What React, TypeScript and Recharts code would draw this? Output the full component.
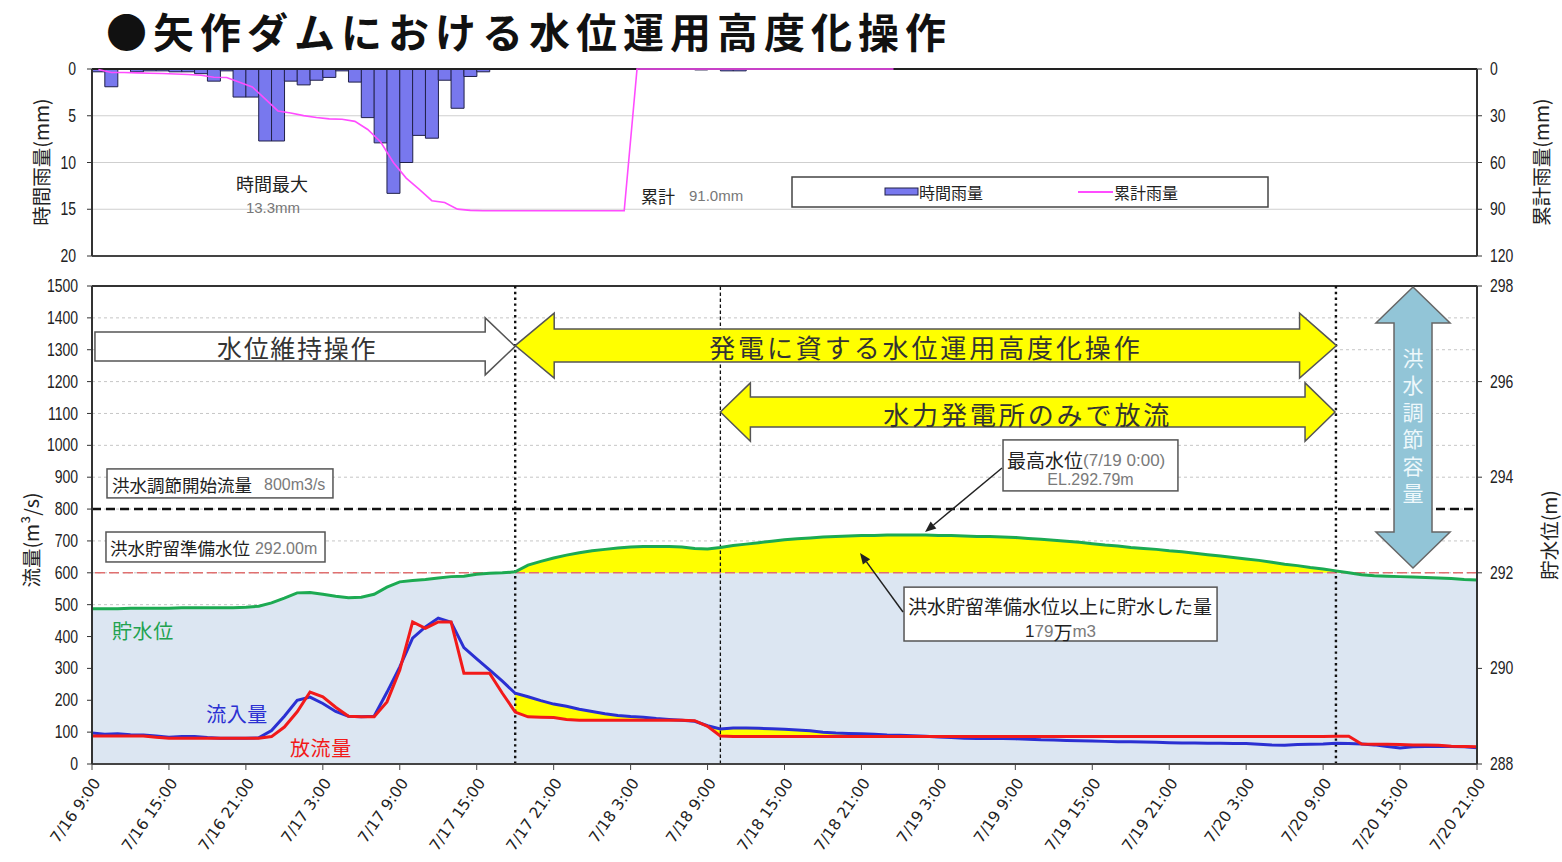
import React from "react";
import {
  ComposedChart,
  Bar,
  Line,
  Area,
  XAxis,
  YAxis,
  CartesianGrid,
  ReferenceLine,
  ReferenceArea,
  ReferenceDot,
} from "recharts";

const W = 1562;
const H = 862;
const JP = "'Noto Sans CJK JP', 'Noto Sans', sans-serif";
const SANS = "'Liberation Sans', 'DejaVu Sans', sans-serif";
const TICKX = "'DejaVu Sans', sans-serif";

// hourly rainfall (mm), one bar per hour from 7/16 9:00
const rainMm = [
  0.3, 1.9, 0, 0.3, 0.2, 0.2, 0.3, 0.3, 0.5, 1.3,
  0.2, 3.0, 3.0, 7.7, 7.7, 1.3, 1.7, 1.2, 0.9, 0.2,
  1.4, 5.2, 7.9, 13.3, 10.0, 7.1, 7.4, 1.2, 4.2, 0.8,
  0.3, 0, 0, 0, 0, 0, 0, 0, 0, 0,
  0, 0, 0, 0, 0, 0, 0, 0.1, 0, 0.2,
  0.2, 0, 0, 0, 0, 0, 0, 0, 0, 0,
  0, 0, 0, 0, 0, 0, 0, 0, 0, 0,
  0, 0, 0, 0, 0, 0, 0, 0, 0, 0,
  0, 0, 0, 0, 0, 0, 0, 0, 0, 0,
  0, 0, 0, 0, 0, 0, 0, 0, 0, 0,
  0, 0, 0, 0, 0, 0, 0, 0,
];

// cumulative rainfall (mm) as drawn (counter resets after 7/18 3:00)
const rainCum: (number | null)[] = [
  0.3, 2.2, 2.2, 2.5, 2.7, 2.9, 3.2, 3.5, 4.0, 5.3,
  5.5, 8.5, 11.5, 19.2, 26.9, 28.2, 29.9, 31.1, 32.0, 32.2,
  33.6, 38.8, 46.7, 60.0, 70.0, 77.1, 84.5, 85.7, 89.9, 90.7,
  91.0, 91.0, 91.0, 91.0, 91.0, 91.0, 91.0, 91.0, 91.0, 91.0,
  91.0, 91.0, 0, 0, 0, 0, 0, 0, 0, 0,
  0, 0, 0, 0, 0, 0, 0, 0, 0, 0,
  0, 0, 0, null, null, null, null, null, null, null,
  null, null, null, null, null, null, null, null, null, null,
  null, null, null, null, null, null, null, null, null, null,
  null, null, null, null, null, null, null, null, null, null,
  null, null, null, null, null, null, null, null,
];

// hourly inflow (m3/s), h = 0 is 7/16 9:00
const inflow = [
  97, 93, 95, 92, 91, 88, 84, 86, 86, 83,
  81, 81, 81, 82, 105, 150, 200, 210, 190, 165,
  150, 148, 150, 225, 305, 395, 430, 458, 445, 365,
  330, 295, 260, 222, 211, 199, 188, 181, 172, 165,
  158, 152, 149, 147, 143, 140, 137, 134, 120, 110,
  113, 113, 112, 111, 109, 107, 104, 100, 97, 96,
  95, 93, 91, 90, 89, 87, 85, 83, 81, 80,
  80, 80, 79, 78, 76, 75, 74, 73, 72, 71,
  70, 70, 69, 68, 67, 66, 66, 65, 65, 64,
  64, 62, 60, 59, 61, 62, 63, 65, 64, 63,
  60, 55, 50, 54, 55, 56, 55, 54, 51,
];

// hourly outflow (m3/s)
const outflow = [
  88, 88, 88, 88, 88, 84, 81, 81, 81, 81,
  81, 81, 81, 81, 86, 116, 164, 226, 211, 178,
  150, 148, 148, 195, 295, 446, 426, 446, 446, 285,
  285, 285, 222, 163, 148, 147, 146, 140, 137, 137,
  137, 137, 137, 137, 137, 137, 137, 136, 118, 88,
  86, 86, 86, 86, 86, 86, 86, 86, 86, 86,
  86, 86, 86, 86, 86, 86, 86, 86, 86, 86,
  86, 86, 86, 86, 86, 86, 86, 86, 86, 86,
  86, 86, 86, 86, 86, 86, 86, 86, 86, 86,
  86, 86, 86, 86, 86, 86, 86, 87, 87, 63,
  62, 62, 61, 60, 60, 59, 56, 55, 54,
];

// hourly reservoir level (EL.m)
const level = [
  291.25, 291.25, 291.25, 291.26, 291.26, 291.26, 291.26, 291.27, 291.27, 291.27,
  291.27, 291.27, 291.28, 291.3, 291.37, 291.47, 291.58, 291.59, 291.55, 291.51,
  291.48, 291.49, 291.55, 291.7, 291.81, 291.84, 291.86, 291.89, 291.92, 291.93,
  291.97, 291.99, 292.0, 292.02, 292.16, 292.24, 292.31, 292.37, 292.42, 292.46,
  292.49, 292.52, 292.54, 292.55, 292.55, 292.55, 292.54, 292.51, 292.5, 292.53,
  292.57, 292.6, 292.63, 292.66, 292.69, 292.71, 292.73, 292.75, 292.76, 292.77,
  292.78, 292.78, 292.79, 292.79, 292.79, 292.79, 292.78, 292.78, 292.77, 292.76,
  292.76, 292.75, 292.74, 292.72, 292.7, 292.68, 292.66, 292.64, 292.61, 292.58,
  292.56, 292.53, 292.51, 292.49, 292.46, 292.44, 292.41, 292.38, 292.35, 292.32,
  292.29, 292.26, 292.22, 292.18, 292.15, 292.11, 292.08, 292.04, 292.0, 291.96,
  291.94, 291.93, 291.92, 291.91, 291.9, 291.89, 291.88, 291.86, 291.85,
];

const tickHours = [0, 6, 12, 18, 24, 30, 36, 42, 48, 54, 60, 66, 72, 78, 84, 90, 96, 102, 108];
const tickLabels = [
  "7/16 9:00", "7/16 15:00", "7/16 21:00", "7/17 3:00", "7/17 9:00", "7/17 15:00",
  "7/17 21:00", "7/18 3:00", "7/18 9:00", "7/18 15:00", "7/18 21:00", "7/19 3:00",
  "7/19 9:00", "7/19 15:00", "7/19 21:00", "7/20 3:00", "7/20 9:00", "7/20 15:00",
  "7/20 21:00",
];
const flowTicks = [0, 100, 200, 300, 400, 500, 600, 700, 800, 900, 1000, 1100, 1200, 1300, 1400, 1500];
const levelTicks = [288, 290, 292, 294, 296, 298];
const rainTicks = [0, 5, 10, 15, 20];
const cumTicks = [0, 30, 60, 90, 120];

const READY_LEVEL = 292; // 洪水貯留準備水位
const FLOOD_FLOW = 800; // 洪水調節開始流量
const STORE_FROM = 33; // 7/17 18:00
const HYDRO_FROM = 49; // 7/18 10:00
const STORE_TO = 97; // 7/20 10:00

const rainRows = rainMm.map((r, i) => ({ i, rain: r, cum: rainCum[i] }));

const flowRows = inflow.map((q, h) => ({
  h,
  inflow: q,
  outflow: outflow[h],
  level: level[h],
  lvBand: level[h] >= READY_LEVEL ? [READY_LEVEL, level[h]] : null,
  flowBand: h >= STORE_FROM ? [outflow[h], Math.max(q, outflow[h])] : null,
}));

// narrow, tall digits like the original spreadsheet font
const LeftTick = (props: any) => (
  <text
    transform={`translate(${props.x},${props.y}) scale(0.8,1)`}
    textAnchor="end"
    dominantBaseline="central"
    fontSize={17.5}
    fontFamily={SANS}
    fill="#222"
  >
    {props.payload.value}
  </text>
);

const RightTick = (props: any) => (
  <text
    transform={`translate(${props.x},${props.y}) scale(0.8,1)`}
    textAnchor="start"
    dominantBaseline="central"
    fontSize={17.5}
    fontFamily={SANS}
    fill="#222"
  >
    {props.payload.value}
  </text>
);

const XTick = (props: any) => {
  const { x, y, payload } = props;
  const label = tickLabels[tickHours.indexOf(payload.value)];
  return (
    <g transform={`translate(${x + 5},${y + 8})`}>
      <text transform="rotate(-55)" textAnchor="end" dominantBaseline="central" fontSize={15.5} fontFamily={TICKX} fill="#222">
        {label}
      </text>
    </g>
  );
};

// horizontal block arrow drawn inside a reference area
function hArrow(o: { hl: number; hr: number; body: number; fill: string; text: string; fs: number; ls: number; dx: number }) {
  return (p: any) => {
    const { x, y, width: w, height: h } = p;
    const cy = y + h / 2;
    const b = o.body;
    const pts: number[][] = [
      [x + o.hl, cy - b],
      [x + w - o.hr, cy - b],
      [x + w - o.hr, y],
      [x + w, cy],
      [x + w - o.hr, y + h],
      [x + w - o.hr, cy + b],
      [x + o.hl, cy + b],
    ];
    if (o.hl > 0) pts.push([x + o.hl, y + h], [x, cy], [x + o.hl, y]);
    return (
      <g>
        <polygon points={pts.map((q) => q.join(",")).join(" ")} fill={o.fill} stroke="#555" strokeWidth={1.5} />
        <text x={x + w / 2 + o.dx} y={cy + 1} textAnchor="middle" dominantBaseline="central" fontSize={o.fs} letterSpacing={o.ls} fontFamily={JP} fill="#333">
          {o.text}
        </text>
      </g>
    );
  };
}

const capacityArrow = (p: any) => {
  const { x, y, width: w, height: h } = p;
  const cx = x + w / 2;
  const hd = 36;
  const b = 19;
  const pts = [
    [cx, y], [x + w, y + hd], [cx + b, y + hd], [cx + b, y + h - hd], [x + w, y + h - hd],
    [cx, y + h], [x, y + h - hd], [cx - b, y + h - hd], [cx - b, y + hd], [x, y + hd],
  ];
  return (
    <g>
      <polygon points={pts.map((q) => q.join(",")).join(" ")} fill="#92C5D7" stroke="#666" strokeWidth={1.5} />
      <text
        x={cx}
        y={y + h / 2 + 1}
        writingMode="tb"
        textAnchor="middle"
        fontSize={21}
        letterSpacing={5.9}
        fontFamily={JP}
        fill="#EEF8FB"
      >
        洪水調節容量
      </text>
    </g>
  );
};

const boxRect = (p: any) => <rect x={p.x} y={p.y} width={p.width} height={p.height} fill="#fff" stroke="#555" strokeWidth={1.5} />;

const floodFlowBox = (p: any) => (
  <g>
    {boxRect(p)}
    <text x={p.x + 5} y={p.y + p.height / 2 + 1} dominantBaseline="central" fontFamily={JP} fontSize={17.5} fill="#222">
      洪水調節開始流量
      <tspan dx={12} fontFamily={SANS} fontSize={16} fill="#7a7a7a">800m3/s</tspan>
    </text>
  </g>
);

const readyLevelBox = (p: any) => (
  <g>
    {boxRect(p)}
    <text x={p.x + 4} y={p.y + p.height / 2 + 1} dominantBaseline="central" fontFamily={JP} fontSize={17.5} fill="#222">
      洪水貯留準備水位
      <tspan dx={5} fontFamily={SANS} fontSize={16} fill="#7a7a7a">292.00m</tspan>
    </text>
  </g>
);

const peakBox = (p: any) => (
  <g>
    {boxRect(p)}
    <text x={p.x + 4} y={p.y + 20} dominantBaseline="central" fontFamily={JP} fontSize={19} fill="#222">
      最高水位
      <tspan fontFamily={SANS} fontSize={17} fill="#7a7a7a">(7/19 0:00)</tspan>
    </text>
    <text x={p.x + p.width / 2} y={p.y + 40} textAnchor="middle" dominantBaseline="central" fontFamily={SANS} fontSize={16} fill="#7a7a7a">
      EL.292.79m
    </text>
  </g>
);

const storedBox = (p: any) => (
  <g>
    {boxRect(p)}
    <text x={p.x + 4} y={p.y + 18} dominantBaseline="central" fontFamily={JP} fontSize={19} fill="#222">
      洪水貯留準備水位以上に貯水した量
    </text>
    <text x={p.x + p.width / 2} y={p.y + 44} textAnchor="middle" dominantBaseline="central" fontFamily={SANS} fontSize={17} fill="#222">
      1<tspan fill="#7a7a7a">79</tspan>
      <tspan fontFamily={JP} fontSize={19} fill="#222">万</tspan>
      <tspan fill="#7a7a7a">m3</tspan>
    </text>
  </g>
);

const leader = (p: any) => {
  const { x1, y1, x2, y2 } = p;
  const a = Math.atan2(y2 - y1, x2 - x1);
  const L = 11;
  const hw = 4.5;
  const bx = x2 - L * Math.cos(a);
  const by = y2 - L * Math.sin(a);
  const px = -Math.sin(a) * hw;
  const py = Math.cos(a) * hw;
  return (
    <g>
      <line x1={x1} y1={y1} x2={bx} y2={by} stroke="#222" strokeWidth={1.5} />
      <polygon points={`${x2},${y2} ${bx + px},${by + py} ${bx - px},${by - py}`} fill="#222" />
    </g>
  );
};

const seriesLabel = (text: string, color: string) => (p: any) => (
  <text x={p.cx} y={p.cy} dominantBaseline="central" fontFamily={JP} fontSize={20} letterSpacing={0.6} fill={color}>
    {text}
  </text>
);

function RainChart() {
  return (
    <ComposedChart width={W} height={270} data={rainRows} margin={{ top: 69, right: 45, bottom: 14, left: 52 }} barCategoryGap={0} barGap={0}>
      <CartesianGrid yAxisId="rain" vertical={false} stroke="#cfcfcf" strokeWidth={1.2} />
      <XAxis dataKey="i" hide />
      <YAxis
        yAxisId="rain"
        domain={[0, 20]}
        reversed
        ticks={rainTicks}
        interval={0}
        width={40}
        tickSize={5}
        tickMargin={11}
        tick={<LeftTick />}
        axisLine={{ stroke: "#333", strokeWidth: 2 }}
        tickLine={{ stroke: "#333" }}
      />
      <YAxis
        yAxisId="cum"
        orientation="right"
        domain={[0, 120]}
        reversed
        ticks={cumTicks}
        interval={0}
        width={40}
        tickSize={5}
        tickMargin={8}
        tick={<RightTick />}
        axisLine={{ stroke: "#333", strokeWidth: 2 }}
        tickLine={{ stroke: "#333" }}
      />
      <Bar yAxisId="rain" dataKey="rain" fill="#7878EE" stroke="#202048" strokeWidth={1} isAnimationActive={false} />
      <ReferenceLine yAxisId="rain" y={20} stroke="#444" strokeWidth={2} zIndex={350} />
      <ReferenceLine yAxisId="rain" y={0} stroke="#222" strokeWidth={2.2} zIndex={350} />
      <Line yAxisId="cum" dataKey="cum" stroke="#FF4CFF" strokeWidth={1.6} dot={false} isAnimationActive={false} zIndex={400} />
    </ComposedChart>
  );
}

function FlowChart() {
  return (
    <ComposedChart width={W} height={592} data={flowRows} margin={{ top: 16, right: 45, bottom: 0, left: 52 }}>
      <CartesianGrid yAxisId="flow" vertical={false} stroke="#c6c6c6" strokeDasharray="3 3" />
      <XAxis
        dataKey="h"
        type="number"
        domain={[0, 108]}
        ticks={tickHours}
        interval={0}
        height={98}
        tickSize={6}
        tickMargin={2}
        tick={<XTick />}
        axisLine={{ stroke: "#444", strokeWidth: 2 }}
        tickLine={{ stroke: "#444" }}
        allowDataOverflow
      />
      <YAxis
        yAxisId="flow"
        domain={[0, 1500]}
        ticks={flowTicks}
        interval={0}
        width={40}
        tickSize={5}
        tickMargin={9}
        tick={<LeftTick />}
        axisLine={{ stroke: "#333", strokeWidth: 2 }}
        tickLine={{ stroke: "#333" }}
        allowDataOverflow
      />
      <YAxis
        yAxisId="lv"
        orientation="right"
        domain={[288, 298]}
        ticks={levelTicks}
        interval={0}
        width={40}
        tickSize={5}
        tickMargin={8}
        tick={<RightTick />}
        axisLine={{ stroke: "#333", strokeWidth: 2 }}
        tickLine={{ stroke: "#333" }}
        allowDataOverflow
      />

      <Area yAxisId="lv" dataKey="level" baseValue={288} fill="#DCE6F2" fillOpacity={1} stroke="none" isAnimationActive={false} zIndex={100} />
      <Area yAxisId="lv" dataKey="lvBand" fill="#FFFF00" fillOpacity={1} stroke="none" isAnimationActive={false} zIndex={110} />
      <Area yAxisId="flow" dataKey="flowBand" fill="#FFFF00" fillOpacity={1} stroke="none" isAnimationActive={false} zIndex={120} />

      <ReferenceLine yAxisId="lv" y={READY_LEVEL} stroke="#E07070" strokeWidth={1.5} strokeDasharray="10 4" zIndex={130} />
      <ReferenceLine yAxisId="flow" y={FLOOD_FLOW} stroke="#111" strokeWidth={2.6} strokeDasharray="9 5" zIndex={140} />
      <ReferenceLine yAxisId="flow" y={1500} stroke="#333" strokeWidth={2} zIndex={140} />
      <ReferenceLine yAxisId="flow" x={STORE_FROM} stroke="#111" strokeWidth={2.4} strokeDasharray="2.4 3.4" zIndex={150} />
      <ReferenceLine yAxisId="flow" x={HYDRO_FROM} stroke="#111" strokeWidth={1.3} strokeDasharray="3.5 2.5" zIndex={150} />
      <ReferenceLine yAxisId="flow" x={STORE_TO} stroke="#111" strokeWidth={2.4} strokeDasharray="2.4 3.4" zIndex={150} />

      <Line yAxisId="lv" dataKey="level" stroke="#1CAA52" strokeWidth={3} dot={false} isAnimationActive={false} zIndex={400} />
      <Line yAxisId="flow" dataKey="inflow" stroke="#2B30D2" strokeWidth={3} dot={false} isAnimationActive={false} zIndex={410} />
      <Line yAxisId="flow" dataKey="outflow" stroke="#F21A1A" strokeWidth={3} dot={false} isAnimationActive={false} zIndex={420} />

      <ReferenceArea
        yAxisId="flow" x1={0.23} x2={STORE_FROM} y1={1221} y2={1400} ifOverflow="visible" zIndex={600}
        shape={hArrow({ hl: 0, hr: 30, body: 14.5, fill: "#ffffff", text: "水位維持操作", fs: 25, ls: 1.7, dx: -8 })}
      />
      <ReferenceArea
        yAxisId="flow" x1={STORE_FROM} x2={97.05} y1={1211} y2={1415} ifOverflow="visible" zIndex={600}
        shape={hArrow({ hl: 39, hr: 37, body: 16.5, fill: "#FFFF00", text: "発電に資する水位運用高度化操作", fs: 26, ls: 2.9, dx: 0 })}
      />
      <ReferenceArea
        yAxisId="flow" x1={HYDRO_FROM} x2={96.93} y1={1013} y2={1196} ifOverflow="visible" zIndex={600}
        shape={hArrow({ hl: 30, hr: 30, body: 15, fill: "#FFFF00", text: "水力発電所のみで放流", fs: 26, ls: 2.9, dx: 0 })}
      />
      <ReferenceArea yAxisId="flow" x1={100.12} x2={105.9} y1={615} y2={1497} ifOverflow="visible" zIndex={600} shape={capacityArrow} />

      <ReferenceArea yAxisId="flow" x1={1.17} x2={18.79} y1={835} y2={926} ifOverflow="visible" zIndex={650} shape={floodFlowBox} />
      <ReferenceArea yAxisId="flow" x1={1.09} x2={18.17} y1={634} y2={728} ifOverflow="visible" zIndex={650} shape={readyLevelBox} />
      <ReferenceArea yAxisId="flow" x1={71.04} x2={84.68} y1={857} y2={1017} ifOverflow="visible" zIndex={650} shape={peakBox} />
      <ReferenceArea yAxisId="flow" x1={63.32} x2={87.73} y1={386} y2={555} ifOverflow="visible" zIndex={650} shape={storedBox} />

      <ReferenceLine yAxisId="flow" segment={[{ x: 70.96, y: 929 }, { x: 64.96, y: 728 }]} ifOverflow="visible" zIndex={660} shape={leader} />
      <ReferenceLine yAxisId="flow" segment={[{ x: 63.24, y: 477 }, { x: 59.89, y: 662 }]} ifOverflow="visible" zIndex={660} shape={leader} />

      <ReferenceDot yAxisId="flow" x={1.56} y={420} r={0} ifOverflow="visible" zIndex={700} shape={seriesLabel("貯水位", "#22A24F")} />
      <ReferenceDot yAxisId="flow" x={8.9} y={160} r={0} ifOverflow="visible" zIndex={700} shape={seriesLabel("流入量", "#2B30D2")} />
      <ReferenceDot yAxisId="flow" x={15.44} y={53} r={0} ifOverflow="visible" zIndex={700} shape={seriesLabel("放流量", "#F21A1A")} />
    </ComposedChart>
  );
}

const vTitle = (text: string, cx: number, cy: number, fs: number) => (
  <text x={cx} y={cy} transform={`rotate(-90 ${cx} ${cy})`} textAnchor="middle" dominantBaseline="central" fontFamily={JP} fontSize={fs} fill="#222">
    {text}
  </text>
);

export default function App() {
  return (
    <div style={{ position: "absolute", left: 0, top: 0, width: W, height: H, background: "#fff", overflow: "hidden" }}>
      <div style={{ position: "absolute", left: 0, top: 0 }}>
        <RainChart />
      </div>
      <div style={{ position: "absolute", left: 0, top: 270 }}>
        <FlowChart />
      </div>
      <svg width={W} height={H} style={{ position: "absolute", left: 0, top: 0, pointerEvents: "none" }}>
        <text x={106} y={48} fontFamily={JP} fontSize={41} fontWeight="bold" letterSpacing={6} fill="#111">
          ●矢作ダムにおける水位運用高度化操作
        </text>

        {vTitle("時間雨量(mm)", 40, 162, 19.5)}
        {vTitle("累計雨量(mm)", 1540, 162, 19.5)}
        {vTitle("流量(m³/s)", 30, 540, 19.5)}
        {vTitle("貯水位(m)", 1548, 535, 19.5)}

        <text x={272} y={183} textAnchor="middle" dominantBaseline="central" fontFamily={JP} fontSize={18} fill="#222">時間最大</text>
        <text x={273} y={207} textAnchor="middle" dominantBaseline="central" fontFamily={SANS} fontSize={15} fill="#777">13.3mm</text>
        <text x={641} y={195} dominantBaseline="central" fontFamily={JP} fontSize={17} fill="#222">
          累計<tspan dx={14} fontFamily={SANS} fontSize={15} fill="#777">91.0mm</tspan>
        </text>

        <rect x={792} y={177} width={476} height={30} fill="#fff" stroke="#444" strokeWidth={1.5} />
        <rect x={885} y={188} width={33} height={7} fill="#7878EE" stroke="#202048" strokeWidth={1} />
        <text x={919} y={192} dominantBaseline="central" fontFamily={JP} fontSize={16} fill="#222">時間雨量</text>
        <line x1={1078} y1={192} x2={1113} y2={192} stroke="#FF4CFF" strokeWidth={2} />
        <text x={1114} y={192} dominantBaseline="central" fontFamily={JP} fontSize={16} fill="#222">累計雨量</text>
      </svg>
    </div>
  );
}
